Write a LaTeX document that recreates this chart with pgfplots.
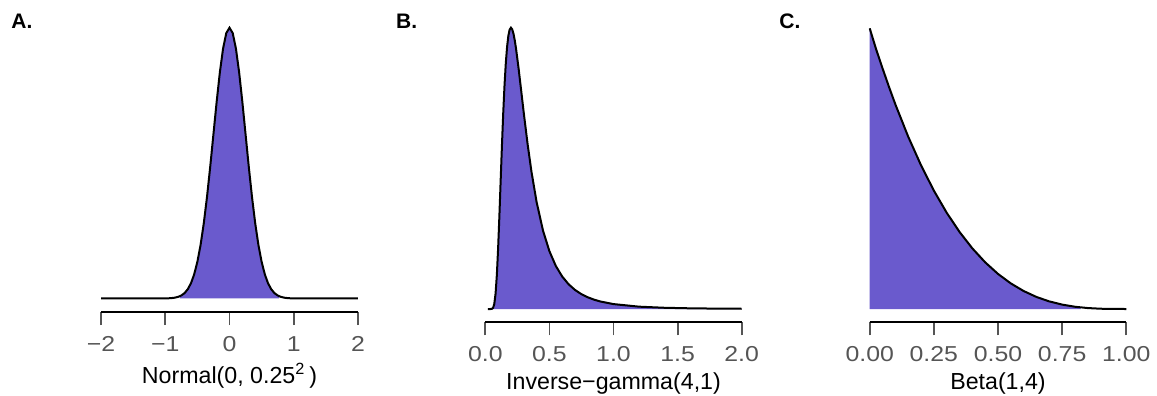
\documentclass[border=0pt]{standalone}
\usepackage{pgfplots}
\pgfplotsset{compat=1.18}
\usepackage{fontspec}
\setmainfont{Liberation Sans}
\newfontfamily\tickfont{Liberation Sans}[FakeStretch=1.15]
\definecolor{slate}{HTML}{6A5ACD}
\definecolor{tickgray}{HTML}{555555}
\pgfplotsset{
  panel/.style={
    scale only axis, anchor=south west, clip=false,
    axis x line*=bottom, hide y axis,
    axis line style={black, line width=1pt},
    tick align=outside, major tick length=6.5pt,
    every tick/.style={tickgray, line width=0.9pt},
    xticklabel style={font=\tickfont\fontsize{10.8}{12}\selectfont, text=tickgray, anchor=base, yshift=-13.1pt},
    /pgf/number format/assume math mode=true,
    every axis x label/.style={at={(axis description cs:0.5,0)}, anchor=base, font=\fontsize{11.6}{13}\selectfont},
  }
}
\begin{document}
\begin{tikzpicture}
% Panel A
\begin{axis}[panel, at={(101*0.5pt,-312*0.5pt)}, width=257*0.5pt, height=284.3*0.5pt,
  xmin=-2, xmax=2, ymin=-0.0796, ymax=1.59577,
  xtick={-2,-1,0,1,2}, xticklabels={−2,−1,0,1,2},
  xlabel={Normal(0, 0.25\textsuperscript{2}\,)}, xlabel style={yshift=-35.65pt}]
\addplot[fill=slate, draw=none] coordinates {(-0.7726,0) (-0.7726,0.01346) (-0.75,0.01773) (-0.7,0.03166) (-0.65,0.05433) (-0.6,0.08958) (-0.55,0.1419) (-0.5,0.21596) (-0.45,0.3158) (-0.4,0.44368) (-0.35,0.59891) (-0.3,0.77675) (-0.25,0.96789) (-0.2,1.15877) (-0.15,1.3329) (-0.1,1.47308) (-0.05,1.56417) (0,1.59577) (0.05,1.56417) (0.1,1.47308) (0.15,1.3329) (0.2,1.15877) (0.25,0.96789) (0.3,0.77675) (0.35,0.59891) (0.4,0.44368) (0.45,0.3158) (0.5,0.21596) (0.55,0.1419) (0.6,0.08958) (0.65,0.05433) (0.7,0.03166) (0.75,0.01773) (0.7726,0.01346) (0.7726,0)};
\addplot[black, line width=1pt] coordinates {(-2,0) (-1.5,0) (-1.2,0.00002) (-1.1,0.0001) (-1,0.00053) (-0.95,0.00117) (-0.9,0.00245) (-0.85,0.00493) (-0.8,0.00954) (-0.75,0.01773) (-0.7,0.03166) (-0.65,0.05433) (-0.6,0.08958) (-0.55,0.1419) (-0.5,0.21596) (-0.45,0.3158) (-0.4,0.44368) (-0.35,0.59891) (-0.3,0.77675) (-0.25,0.96789) (-0.2,1.15877) (-0.15,1.3329) (-0.1,1.47308) (-0.05,1.56417) (0,1.59577) (0.05,1.56417) (0.1,1.47308) (0.15,1.3329) (0.2,1.15877) (0.25,0.96789) (0.3,0.77675) (0.35,0.59891) (0.4,0.44368) (0.45,0.3158) (0.5,0.21596) (0.55,0.1419) (0.6,0.08958) (0.65,0.05433) (0.7,0.03166) (0.75,0.01773) (0.8,0.00954) (0.85,0.00493) (0.9,0.00245) (0.95,0.00117) (1,0.00053) (1.1,0.0001) (1.2,0.00002) (1.5,0) (2,0)};
\end{axis}
% Panel B
\begin{axis}[panel, at={(485.3*0.5pt,-322.3*0.5pt)}, width=256.4*0.5pt, height=294.6*0.5pt,
  xmin=0, xmax=2, ymin=-0.1659, ymax=3.50933,
  xtick={0,0.5,1,1.5,2}, xticklabels={0.0,0.5,1.0,1.5,2.0},
  xlabel={Inverse−gamma(4,1)}, xlabel style={yshift=-33.6pt}]
\addplot[fill=slate, draw=none] coordinates {(0.06,0) (0.06,0.01238) (0.07,0.06195) (0.08,0.18955) (0.09,0.42184) (0.1,0.75669) (0.11,1.16615) (0.12,1.60997) (0.13,2.0484) (0.14,2.44962) (0.15,2.79313) (0.16,3.06841) (0.17,3.27293) (0.18,3.40991) (0.19,3.486) (0.2,3.50933) (0.21,3.48886) (0.22,3.43296) (0.23,3.34942) (0.24,3.24509) (0.26,2.99657) (0.28,2.72272) (0.3,2.44676) (0.33,2.05704) (0.36,1.71378) (0.4,1.33602) (0.45,0.97879) (0.5,0.72176) (0.55,0.53753) (0.6,0.40482) (0.65,0.30843) (0.7,0.23765) (0.75,0.18514) (0.8,0.14572) (0.85,0.11582) (0.9,0.09292) (1,0.06131) (1.2,0.0291) (1.4,0.01517) (1.6,0.00851) (1.8,0.00506) (2,0.00316) (2,0)};
\addplot[black, line width=1pt] coordinates {(0.02,0) (0.04,0.00002) (0.05,0.0011) (0.06,0.01238) (0.07,0.06195) (0.08,0.18955) (0.09,0.42184) (0.1,0.75669) (0.11,1.16615) (0.12,1.60997) (0.13,2.0484) (0.14,2.44962) (0.15,2.79313) (0.16,3.06841) (0.17,3.27293) (0.18,3.40991) (0.19,3.486) (0.2,3.50933) (0.21,3.48886) (0.22,3.43296) (0.23,3.34942) (0.24,3.24509) (0.26,2.99657) (0.28,2.72272) (0.3,2.44676) (0.33,2.05704) (0.36,1.71378) (0.4,1.33602) (0.45,0.97879) (0.5,0.72176) (0.55,0.53753) (0.6,0.40482) (0.65,0.30843) (0.7,0.23765) (0.75,0.18514) (0.8,0.14572) (0.85,0.11582) (0.9,0.09292) (1,0.06131) (1.2,0.0291) (1.4,0.01517) (1.6,0.00851) (1.8,0.00506) (2,0.00316)};
\end{axis}
% Panel C
\begin{axis}[panel, at={(869.7*0.5pt,-322.3*0.5pt)}, width=256.6*0.5pt, height=294*0.5pt,
  xmin=0, xmax=1, ymin=-0.1895, ymax=4,
  xtick={0,0.25,0.5,0.75,1}, xticklabels={0.00,0.25,0.50,0.75,1.00},
  xlabel={Beta(1,4)}, xlabel style={yshift=-33.6pt}]
\addplot[fill=slate, draw=none] coordinates {(0,0) (0,4) (0.05,3.4295) (0.1,2.916) (0.15,2.4565) (0.2,2.048) (0.25,1.6875) (0.3,1.372) (0.35,1.0985) (0.4,0.864) (0.45,0.6655) (0.5,0.5) (0.55,0.3645) (0.6,0.256) (0.65,0.1715) (0.7,0.108) (0.75,0.0625) (0.8,0.032) (0.822,0.02256) (0.822,0)};
\addplot[black, line width=1pt] coordinates {(0,4) (0.025,3.70141) (0.05,3.4295) (0.075,3.16645) (0.1,2.916) (0.15,2.4565) (0.2,2.048) (0.25,1.6875) (0.3,1.372) (0.35,1.0985) (0.4,0.864) (0.45,0.6655) (0.5,0.5) (0.55,0.3645) (0.6,0.256) (0.65,0.1715) (0.7,0.108) (0.75,0.0625) (0.8,0.032) (0.85,0.0135) (0.9,0.004) (0.95,0.0005) (1,0)};
\end{axis}
\node[anchor=base west, inner sep=0pt, font=\bfseries\fontsize{10.5}{12}\selectfont] at (11*0.5pt,-28*0.5pt) {A.};
\node[anchor=base west, inner sep=0pt, font=\bfseries\fontsize{10.5}{12}\selectfont] at (395.7*0.5pt,-28*0.5pt) {B.};
\node[anchor=base west, inner sep=0pt, font=\bfseries\fontsize{10.5}{12}\selectfont] at (779*0.5pt,-28*0.5pt) {C.};
\pgfresetboundingbox
\useasboundingbox (0,0) rectangle (578.5pt,-198pt);
\end{tikzpicture}
\end{document}
